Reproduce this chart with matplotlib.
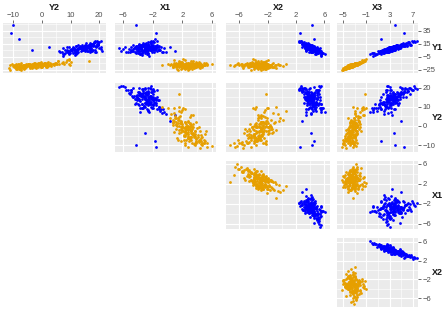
import matplotlib
matplotlib.use("Agg")
import matplotlib.pyplot as plt
from matplotlib.ticker import FixedLocator, NullFormatter

plt.rcParams['font.family'] = ['Liberation Sans', 'DejaVu Sans']

# ---------------- data ----------------
blue_X3 = [3.1, 4.5, 2.2, 1.3, 3.8, 5.6, 2.7, 0.4, 3.5, 4.1,
           2.9, 6.3, 1.8, 3.3, 4.8, 2.4, 3.9, 0.9, 5.1, 3.0,
           2.0, 4.3, 7.4, 3.6, 1.5, 2.6, 4.6, 3.2, 5.9, 2.8,
           3.4, 1.1, 4.0, 6.8, 2.3, 3.7, -0.4, 4.9, 3.0, 2.5,
           5.3, 3.9, 1.7, 2.9, 4.4, 3.3, 6.0, 2.1, 3.6, 0.2,
           4.2, 2.6, 3.1, 5.5, 1.4, 3.8, 2.8, 4.7, 7.7, 3.5,
           1.9, 3.0, 4.3, 2.2, 5.0, 3.4, 0.7, 3.9, 2.7, 6.5,
           3.6, 4.8, 2.4, 1.6, 3.2, 5.7, 2.9, 4.0, -0.1, 3.3,
           2.5, 4.5, 3.8, 6.2, 1.2, 3.1, 4.1, 2.0, 5.2, 3.7,
           4.0, 5.2, 3.8, 1.5, 2.6, 4.4, 7.0, 2.3, 3.5, 4.9,
           3.3, 2.1, 4.7, 3.9, 1.0, 5.4, 2.9, 3.6, 4.2, 2.4,
           5.8, 3.0, 1.6, 4.4, 2.7, 3.5, 6.6, 2.2, 3.8, 4.9,
           0.5, 3.2, 4.0, 2.6, 5.1, 3.7, 1.8, 4.6, 3.1, 2.8,
           4.3, 6.1, 2.0, 3.4, 4.8, 1.3, 3.9, 5.6, 2.5, 3.3,
           2.9, 4.1, 3.6, 7.2, 1.9, 3.0, 4.5, 2.3, 5.0, 3.7,
           3.5, 1.5, 4.4, 2.8, 6.4, 3.2, 0.1, 4.0, 2.6, 5.3]
blue_X1 = [-2.5, -3.6, -1.9, -3.1, -4.2, -2.2, -0.8, -3.4, -2.9, -1.5,
           -3.8, -2.6, -5.1, -2.0, -3.0, -1.2, -3.5, -2.7, -4.6, -2.3,
           -1.0, -3.3, -2.4, -4.0, -2.8, -6.3, -1.7, -3.0, -2.1, -3.9,
           -2.6, -4.4, -4.3, -1.4, -3.2, -2.5, -3.7, 0.3, -2.2, -5.4,
           -3.1, -1.8, -2.9, -4.8, -2.4, -0.5, -3.3, -2.0, -3.6, -2.7,
           -1.6, -3.9, -2.6, -1.6, -4.1, -3.0, -2.3, -5.8, -1.9, -3.4,
           -2.8, -4.5, -1.3, -3.2, -2.6, 1.0, -3.7, -2.1, -4.0, -3.1,
           -2.0, -3.4, -5.0, -1.7, -2.7, -3.8, -1.1, -2.4, -3.5, -2.9,
           -4.3, -2.2, -3.0, -1.8, -3.9, -6.6, -2.5, -0.2, -3.3, -2.0,
           -3.6, -1.4, -2.8, -4.7, -2.3, -3.1, -1.9, -3.5, -5.2, -2.6,
           -3.0, -2.4, -3.9, -1.7, -3.3, -2.6, -4.4, -2.0, -3.1, -5.6,
           -2.2, -3.7, -1.4, -2.9, -4.1, -2.5, -3.4, -0.6, -2.8, -3.6,
           -3.5, -1.9, -2.7, -4.6, -3.0, -1.2, -2.4, -3.8, -5.0, -2.1,
           -2.9, -3.3, -4.0, -1.6, -2.6, -3.1, -0.9, -2.3, -3.7, -4.9,
           -1.8, -2.7, -3.5, -2.2, -4.3, -3.0, -1.5, -2.6, -3.9, -2.4,
           -4.1, -2.8, -3.2, -6.0, -2.0, -3.6, -2.5, -1.1, -3.4, -2.9]
blue_X2 = [4.35, 3.79, 4.64, 4.79, 4.41, 2.82, 4.07, 5.70, 4.10, 3.62,
           4.35, 3.16, 5.20, 4.25, 3.33, 4.19, 4.29, 4.83, 4.01, 4.03,
           4.39, 3.69, 2.59, 4.63, 4.73, 5.49, 3.17, 4.23, 3.28, 4.41,
           4.16, 5.58, 4.30, 2.67, 4.33, 4.12, 6.08, 2.87, 3.91, 5.20,
           3.36, 3.87, 4.88, 4.60, 3.93, 3.47, 3.05, 4.60, 4.23, 5.50,
           3.60, 4.59, 4.47, 2.60, 5.40, 3.81, 4.32, 4.56, 2.45, 4.02,
           4.88, 4.59, 3.50, 4.46, 3.75, 3.36, 5.46, 3.65, 4.87, 2.80,
           4.03, 3.63, 5.14, 4.50, 4.46, 3.28, 3.98, 3.98, 5.81, 3.97,
           4.93, 3.74, 4.11, 2.89, 5.12, 5.37, 3.57, 4.09, 3.75, 3.99,
           4.18, 3.17, 3.76, 5.41, 4.49, 3.71, 2.42, 4.91, 4.97, 3.69,
           4.40, 4.20, 4.19, 3.45, 5.34, 3.60, 4.50, 4.23, 3.58, 5.09,
           3.35, 4.59, 4.74, 3.46, 4.90, 3.80, 3.24, 4.21, 4.26, 3.54,
           5.59, 4.06, 3.56, 5.06, 3.81, 3.39, 4.92, 3.80, 4.97, 3.86,
           4.09, 3.00, 5.04, 4.11, 3.33, 5.29, 3.65, 3.45, 4.38, 4.88,
           4.35, 3.62, 4.50, 2.71, 4.86, 4.01, 3.57, 4.78, 3.88, 3.69,
           4.60, 4.63, 4.13, 5.24, 3.07, 4.08, 5.49, 3.76, 4.36, 3.62]
blue_Y1 = [8.4, 8.7, 7.4, 1.0, 11.0, 14.6, 3.3, 1.1, 8.5, 8.1,
           9.8, 17.5, 1.9, 8.4, 8.5, 5.5, 11.5, -1.1, 13.8, 6.1,
           4.9, 13.1, 17.5, 6.2, 4.6, 4.5, 12.4, 7.6, 11.9, 8.6,
           6.2, 2.5, 43.5, 18.9, 4.2, 11.5, -1.1, 10.2, 7.6, 3.3,
           15.3, 8.0, 5.1, 3.8, 10.9, 8.9, 13.7, 5.2, 7.2, 1.0,
           11.8, 4.0, 9.9, 31.0, 3.8, 6.8, 7.1, 10.2, 19.8, 10.0,
           2.1, 9.1, 9.6, 5.4, 13.5, 4.7, -0.6, 10.0, 8.3, 14.6,
           9.2, 14.0, 4.0, 22.0, 5.1, 14.9, 6.8, 7.8, 0.7, 8.9,
           6.8, 11.7, 5.8, 17.7, 0.7, 8.9, 10.1, 1.9, 11.5, 10.0,
           11.3, 14.0, 9.3, 3.6, 5.0, 8.4, 18.4, 6.2, 7.0, 14.2,
           4.4, 7.2, 13.2, 5.5, 4.2, 11.1, 10.3, 7.2, 12.8, 2.5,
           16.7, 3.6, 4.8, 8.4, 9.3, 9.0, 13.3, 2.4, 11.8, 12.7,
           -2.2, 9.6, 6.8, 7.5, 15.3, 5.5, 4.9, 9.4, 10.9, 3.1,
           12.6, 16.0, 1.4, 10.7, 8.0, 4.0, 10.5, 11.6, 8.3, 6.4,
           3.3, 13.1, 6.2, 19.9, 1.6, 9.1, 7.7, 7.7, 13.0, 6.5,
           11.0, -0.5, 12.4, 7.1, 13.3, 10.1, -4.2, 11.8, 3.5, 15.8]
blue_Y2 = [13.5, 16.8, 10.9, 9.8, 15.7, 17.9, 7.0, 9.6, 12.7, 14.3,
           14.0, 19.7, 16.7, 10.8, 15.0, 9.8, 16.8, 7.6, 19.7, 13.9,
           8.0, 15.2, 19.9, 17.8, 9.0, 20.9, 11.8, 14.8, 17.8, 13.5,
           14.9, 11.7, -10.2, 18.5, 10.5, 14.7, 7.2, 2.5, 11.2, 18.7,
           17.3, 14.1, 11.6, 15.7, 15.4, 7.5, 19.1, 11.4, 15.5, 8.2,
           11.8, 16.1, 10.8, -10.8, 13.7, 14.0, 12.5, 20.5, 19.4, 15.8,
           12.3, 15.7, 13.3, 10.3, 17.6, 5.9, 9.4, 14.8, 14.5, 19.7,
           13.4, 16.4, 17.6, -8.0, 12.2, 19.6, 10.1, 12.1, 9.3, 14.3,
           14.3, 15.7, -3.6, 18.2, 10.8, 20.1, 15.0, 6.3, 17.0, 13.6,
           15.8, 15.3, 13.1, 15.2, 10.1, 17.0, 18.5, 14.1, 17.3, 17.4,
           12.0, 12.3, 17.3, 14.4, 9.1, 18.4, 14.3, 14.9, 14.1, 19.0,
           15.3, 17.0, 8.6, 13.5, 16.3, 11.3, 19.5, 8.6, 16.1, 16.6,
           11.5, 9.4, 16.8, 15.2, 19.1, 8.9, 11.7, 16.4, 19.0, 9.6,
           17.8, 18.3, 11.6, 13.7, 14.2, 11.8, 8.6, 19.1, 13.0, 18.7,
           12.6, 12.5, 16.7, 20.6, 12.1, 15.4, 11.1, 12.7, 17.9, 15.5,
           14.9, 12.0, 15.7, 20.6, 16.5, 16.2, 7.5, 13.3, 11.5, 16.8]

orange_X3 = [-3.1, -4.0, -2.6, -3.5, -3.9, -2.2, -3.3, -4.6, -2.9, -3.7,
             -3.4, -2.5, -4.3, -3.0, -3.8, -1.8, -3.2, -4.9, -2.8, -3.6,
             -3.9, -2.7, -3.1, -4.4, -2.3, -3.5, -3.0, -5.2, -3.3, -2.0,
             -3.6, -4.1, -2.9, -3.2, -1.4, -3.8, -4.5, -2.6, -3.4, -3.0,
             -2.8, -3.7, -4.2, -3.1, -2.4, -3.9, -3.3, -1.0, -3.6, -4.7,
             -3.0, -3.5, -2.7, -4.0, -3.2, -2.1, -3.8, -4.3, -2.9, -3.4,
             -4.8, -3.1, -2.5, -3.6, -3.9, -2.8, -3.3, -1.6, -4.1, -3.0,
             -3.7, -2.9, -3.4, -4.5, -2.2, -3.2, -3.6, -2.6, -5.0, -3.1,
             -3.5, -4.0, -2.8, -3.3, -1.9, -3.8, -4.4, -3.0, -2.4, -3.6,
             -3.2, -2.7, -3.9, -4.2, -3.4, -2.9, -1.2, -3.7, -3.1, -4.6,
             -3.3, -2.6, -4.1, -3.7, -2.9, -3.5, -4.4, -2.2, -3.0, -3.8,
             -3.6, -2.4, -3.1, -4.8, -2.8, -3.4, -1.7, -3.9, -3.2, -4.2,
             -2.7, -3.5, -4.0, -3.1, -2.1, -3.7, -3.3, -4.6, -2.5, -3.0,
             -3.9, -3.2, -2.6, -4.3, -3.5, -1.5, -3.0, -3.8, -2.8, -4.5,
             -3.4, -2.3, -3.7, -3.1, -4.9, -2.9, -3.6, -2.0, -4.1, -3.3,
             -3.0, -4.2, -2.7, -3.5, -3.8, -2.4, -3.2, -4.0, -1.3, -3.6]
orange_X2 = [-3.0, -1.8, -4.5, -2.6, -3.8, -2.2, -5.1, -3.4, -1.2, -3.9,
             -2.8, -4.2, -3.1, -0.6, -3.5, -2.4, -6.0, -2.9, -3.7, -1.9,
             -4.0, -3.3, -2.1, -5.5, -2.7, -3.6, -1.5, -4.3, -3.0, -2.5,
             -3.2, -0.2, -4.7, -2.9, -3.4, -1.7, -3.9, -5.8, -2.3, -3.6,
             -2.0, -4.4, -3.1, -7.3, -2.6, -3.3, -1.0, -4.1, -2.8, -3.5,
             -3.7, -2.4, -5.0, -3.0, -1.6, -4.2, -2.9, -3.4, 0.6, -3.1,
             -2.7, -4.6, -3.3, -2.1, -3.8, -6.4, -2.5, -3.0, -1.4, -4.0,
             -3.5, -2.2, -4.8, -3.1, -2.6, -0.9, -3.9, -5.3, -2.4, -3.2,
             -4.3, -1.8, -3.6, -2.9, -4.9, -3.3, -2.0, -3.7, -2.6, -6.8,
             -2.5, -3.8, -1.3, -4.0, -3.0, -4.6, -2.3, -3.4, -5.6, -2.8,
             -2.4, -3.9, -1.6, -4.8, -3.2, -2.0, -3.5, -5.2, -2.7, -1.1,
             -3.6, -2.9, -4.3, -2.2, -6.2, -3.0, -1.9, -3.8, -0.4, -4.1,
             -3.1, -5.0, -2.5, -3.4, -4.5, -1.4, -2.8, -3.7, -2.1, -5.7,
             -2.6, -3.3, -4.0, -1.8, -2.9, -3.6, -4.7, -2.3, -3.5, -0.8,
             -3.9, -2.4, -5.4, -3.0, -2.2, -4.1, -1.7, -3.2, -2.7, -4.4,
             -1.5, -3.7, -2.9, -4.6, -2.0, -3.4, -6.6, -2.6, -3.8, 0.2]
orange_X1 = [3.3, 1.5, 4.4, 1.3, 3.2, 2.8, 5.0, 1.3, 0.9, 3.0,
             3.7, 2.5, 2.8, 0.5, 4.5, 1.9, 4.9, 1.4, 3.3, 2.4,
             2.8, 3.7, 1.4, 4.4, 2.7, 1.2, 2.7, 2.7, 4.5, 1.8,
             3.2, 0.3, 4.7, 2.2, 3.4, 0.7, 2.9, 5.4, 2.6, 2.0,
             3.1, 2.7, 3.1, 2.4, 1.0, 3.9, 2.4, 2.1, 2.7, 2.5,
             4.5, 1.4, 3.6, 2.1, 2.5, 4.2, 0.7, 3.2, 1.5, 2.3,
             3.3, 2.5, 3.1, 0.9, 4.2, 6.0, 1.8, 3.2, 1.2, 3.2,
             1.8, 3.0, 3.9, 2.2, 3.8, -0.8, 3.4, 3.2, 2.3, 1.6,
             4.4, 1.8, 3.2, 1.9, 5.2, 2.2, 2.5, 1.8, 3.2, 3.7,
             2.8, 2.5, 2.4, 3.9, 1.2, 3.3, 1.6, 3.7, 4.5, 2.2,
             3.4, 1.9, 2.5, 4.6, 1.1, 3.0, 3.0, 2.7, 4.0, 0.7,
             3.5, 1.2, 4.1, 1.8, 4.9, 2.7, 0.9, 4.3, 1.8, 2.4,
             1.7, 4.9, 2.7, 1.0, 3.5, 2.6, 1.8, 3.7, 0.1, 4.3,
             3.5, 2.3, 5.0, 1.5, 3.1, 1.5, 3.6, 3.2, 1.9, 1.9,
             3.7, 1.5, 4.7, 2.3, 3.6, 1.8, 2.8, 3.0, 0.9, 4.1,
             1.4, 3.9, 1.7, 3.8, 2.4, 1.5, 5.3, 2.8, 2.4, 0.8]
orange_Y1 = [-15.7, -20.4, -14.1, -18.5, -18.8, -14.8, -16.3, -23.1, -14.8, -20.7,
             -16.2, -16.1, -20.0, -16.4, -18.9, -12.9, -16.8, -24.5, -15.0, -20.0,
             -18.4, -16.4, -15.9, -21.3, -14.8, -16.4, -17.3, -25.6, -16.4, -12.2,
             -19.6, -17.6, -17.2, -16.0, -11.9, -17.2, -23.0, -15.1, -19.0, -15.1,
             -16.3, -18.4, -21.6, -17.4, -15.6, -17.6, -17.6, -8.8, -18.9, -21.5,
             -17.7, -16.4, -17.1, -18.9, -18.0, -12.7, -20.1, -19.6, -15.6, -17.3,
             -23.6, -16.4, -15.7, -16.6, -20.8, -16.0, -18.7, -10.5, -20.6, -15.3,
             -18.0, -16.7, -17.5, -22.7, -12.4, -17.7, -17.3, -16.9, -23.6, -15.8,
             -19.6, -17.9, -16.9, -16.9, -14.3, -18.3, -21.9, -15.2, -15.1, -19.0,
             -17.9, -14.6, -20.3, -20.0, -18.8, -15.2, -10.8, -18.0, -18.8, -20.9,
             -15.2, -17.3, -18.2, -21.0, -14.1, -19.7, -20.5, -16.0, -14.3, -20.4,
             -16.7, -16.2, -16.2, -23.9, -15.0, -19.8, -10.4, -17.8, -18.0, -19.5,
             -16.9, -16.9, -21.7, -15.9, -14.8, -16.2, -19.3, -20.8, -15.8, -15.5,
             -20.9, -15.2, -17.4, -19.4, -16.1, -12.9, -15.6, -20.9, -13.9, -21.7,
             -16.1, -15.7, -18.3, -18.2, -21.7, -14.5, -19.9, -14.0, -18.1, -19.5,
             -17.8, -18.9, -14.3, -20.8, -16.8, -15.9, -17.5, -21.2, -9.7, -18.7]
orange_Y2 = [-1.4, -2.1, -2.9, 0.2, -5.7, 2.7, -8.1, -6.2, 6.9, -6.5,
             -2.9, -0.4, -6.3, 6.1, -7.8, 8.3, -9.0, -7.2, -0.4, -2.4,
             -5.1, -2.8, 3.9, -11.5, 1.9, 0.7, -0.3, -11.2, -4.9, 7.5,
             -5.7, 4.1, -5.6, -1.3, 5.6, 0.7, -7.9, -9.1, 0.1, -0.8,
             1.6, -6.5, -6.0, -9.8, 5.3, -6.7, 2.1, 9.4, -4.1, -7.4,
             -6.4, 1.7, -4.7, -2.8, -0.4, -0.3, 1.8, -7.1, 7.8, -2.7,
             -8.7, -1.6, -0.6, 2.7, -7.9, -10.6, 1.6, 5.6, -1.4, -1.9,
             -3.4, 1.1, -6.2, -7.4, 2.0, 9.7, -4.9, -3.7, -9.0, 0.1,
             -7.2, -0.7, -2.6, 0.9, -2.5, -4.5, -4.3, 1.5, 0.5, -9.1,
             -2.2, 1.2, -3.0, -8.9, 1.9, -4.4, 16.5, -5.5, -9.2, -5.5,
             -0.8, -0.2, -1.5, -9.1, 1.1, -0.3, -6.7, -1.7, -1.1, 1.5,
             -3.8, 4.0, -4.7, -7.8, -7.4, -0.4, 9.5, -7.2, 2.6, -5.2,
             1.3, -9.1, -6.5, 4.2, 0.9, -3.6, 2.2, -9.9, 9.4, -8.4,
             -4.0, -3.0, -4.1, -3.9, -1.6, 10.0, -5.7, -2.5, -0.6, -2.0,
             -4.2, 4.9, -10.1, 1.8, -9.2, -1.5, 0.0, 4.5, -3.3, -5.7,
             3.0, -8.0, 5.0, -8.2, -0.4, 3.2, -11.0, -3.4, 8.7, 3.2]

row_vars = ["Y1", "Y2", "X1", "X2"]
col_vars = ["Y2", "X1", "X2", "X3"]
major_ticks = {"Y1": [-25, -5, 15, 35], "Y2": [-10, 0, 10, 20],
               "X1": [-6, -2, 2, 6], "X2": [-6, -2, 2, 6], "X3": [-5, -1, 3, 7]}

groups = [
    ("#0000FF", {"Y1": blue_Y1, "Y2": blue_Y2, "X1": blue_X1, "X2": blue_X2, "X3": blue_X3}),
    ("#E69F00", {"Y1": orange_Y1, "Y2": orange_Y2, "X1": orange_X1, "X2": orange_X2, "X3": orange_X3}),
]

# ---------------- layout ----------------
W, H = 446, 311
limits = {"Y1": (-29.6, 47.0), "Y2": (-13.6, 22.4), "X1": (-7.1, 6.55),
          "X2": (-7.9, 6.8), "X3": (-6.0, 7.85)}
col_px = [(3, 106), (115, 216), (226, 330), (337, 418)]
row_px = [(23, 73), (83, 152), (161, 229), (238, 307)]

fig = plt.figure(figsize=(W / 100, H / 100), dpi=100)
fig.patch.set_facecolor("white")

def minor_of(ticks, lim):
    step = ticks[1] - ticks[0]
    cands = [ticks[0] - step / 2] + [t + step / 2 for t in ticks]
    return [c for c in cands if lim[0] <= c <= lim[1]]

for i, rv in enumerate(row_vars):
    for j, cv in enumerate(col_vars):
        if j < i:
            continue
        x0, x1 = col_px[j]
        y0, y1 = row_px[i]
        ax = fig.add_axes([x0 / W, 1 - y1 / H, (x1 - x0) / W, (y1 - y0) / H])
        ax.set_facecolor("#EBEBEB")
        for s in ax.spines.values():
            s.set_visible(False)
        ax.set_xlim(*limits[cv])
        ax.set_ylim(*limits[rv])
        ax.xaxis.set_major_locator(FixedLocator(major_ticks[cv]))
        ax.yaxis.set_major_locator(FixedLocator(major_ticks[rv]))
        ax.xaxis.set_minor_locator(FixedLocator(minor_of(major_ticks[cv], limits[cv])))
        ax.yaxis.set_minor_locator(FixedLocator(minor_of(major_ticks[rv], limits[rv])))
        ax.xaxis.set_minor_formatter(NullFormatter())
        ax.yaxis.set_minor_formatter(NullFormatter())
        ax.grid(which="major", color="white", linewidth=0.8)
        ax.grid(which="minor", color="white", linewidth=0.4)
        ax.set_axisbelow(True)
        for color, d in groups:
            ax.scatter(d[cv], d[rv], s=4, c=color, linewidths=0, zorder=3)
        ax.tick_params(which="minor", length=0)
        show_top = (i == 0)
        show_right = (j == 3)
        ax.tick_params(axis="x", which="major", bottom=False, labelbottom=False,
                       top=show_top, labeltop=show_top, length=2, width=0.5,
                       color="#333333", labelsize=5.5, labelcolor="#4D4D4D", pad=1)
        ax.tick_params(axis="y", which="major", left=False, labelleft=False,
                       right=show_right, labelright=show_right, length=2, width=0.5,
                       color="#333333", labelsize=5.5, labelcolor="#4D4D4D", pad=1.5)
        if i == 0:
            fig.text(((x0 + x1) / 2) / W, 1 - 8 / H, cv, ha="center", va="center",
                     fontsize=6.5, fontweight="bold", color="#1A1A1A")
        if j == 3:
            fig.text(437 / W, 1 - ((y0 + y1) / 2) / H, rv, ha="center", va="center",
                     fontsize=6.5, fontweight="bold", color="#1A1A1A")

fig.savefig("out.png", dpi=100)
